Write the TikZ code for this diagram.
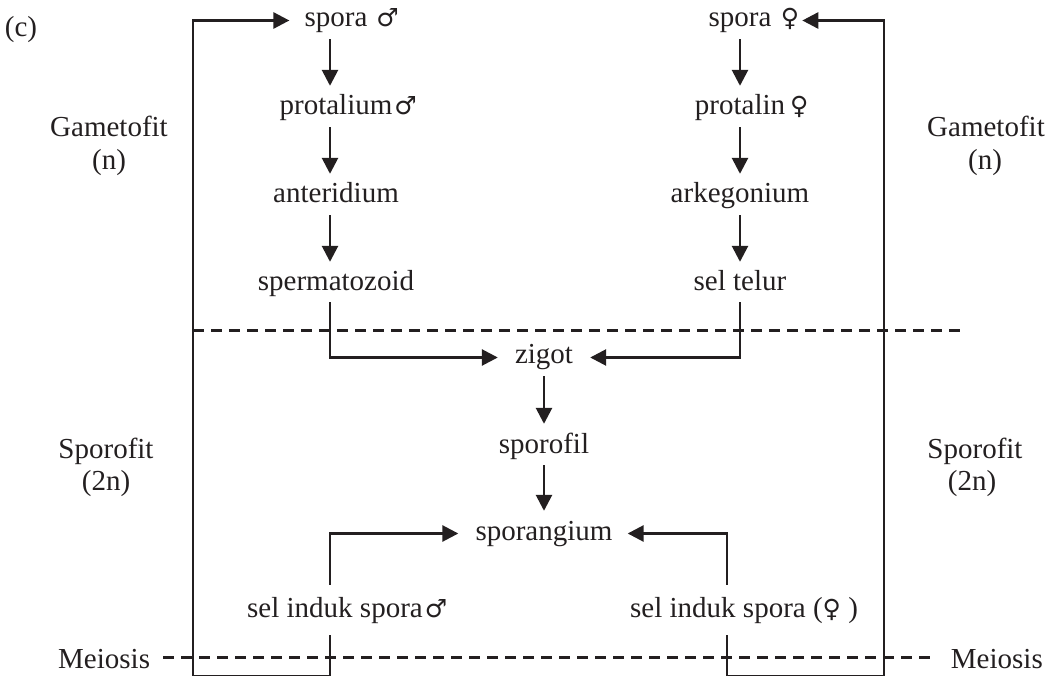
\documentclass[tikz,border=0pt]{standalone}
\usepackage{fontspec}
\setmainfont{Liberation Serif}
\newfontfamily\symfont{DejaVu Sans}
\newcommand{\msym}{{\symfont\fontsize{25}{25}\selectfont ♂}}
\newcommand{\fsym}{{\symfont\fontsize{25}{25}\selectfont ♀}}
\usetikzlibrary{arrows.meta,calc}
\definecolor{ink}{HTML}{231F20}
\begin{document}
\begin{tikzpicture}[x=1pt,y=-1pt,
  txt/.style={font=\fontsize{29}{33}\selectfont, inner sep=0pt, text height=20pt, text depth=7pt, text=ink},
  flow/.style={draw=ink, line width=2.7pt, -{Triangle[length=16pt,width=16pt]}, shorten <=5pt, shorten >=9pt},
  frame/.style={draw=ink, line width=2.7pt},
  dashline/.style={draw=ink, line width=3pt, dash pattern=on 11pt off 7pt},
]
\useasboundingbox (0,0) rectangle (1050,676);

% column guides
\coordinate (colL) at (330,0);
\coordinate (colR) at (740,0);
\coordinate (colRb) at (727,0);
\coordinate (frL) at (193,0);
\coordinate (frR) at (884,0);
\coordinate (bot) at (0,676);

\node[txt, anchor=base] (c) at (21,37) {(c)};

% left column
\node[txt, anchor=base] (sporaM) at (336,27) {spora\rlap{\kern9pt\msym}};
\node[txt, anchor=base] (protM) at (336,115) {protalium\rlap{\kern2pt\msym}};
\node[txt, anchor=base] (anter) at (336,203) {anteridium};
\node[txt, anchor=base] (sperm) at (336,291) {spermatozoid};

% right column
\node[txt, anchor=base] (sporaF) at (740,27) {spora};
\node[txt, anchor=base west] (sporaFs) at (sporaF.base east) {\kern9pt\fsym};
\node[txt, anchor=base] (protF) at (740,115) {protalin\rlap{\kern5pt\fsym}};
\node[txt, anchor=base] (arke) at (740,203) {arkegonium};
\node[txt, anchor=base] (telur) at (740,291) {sel telur};

% centre column
\node[txt, anchor=base] (zigot) at (544,364) {zigot};
\node[txt, anchor=base] (sporofil) at (544,453) {sporofil};
\node[txt, anchor=base] (sporang) at (544,540) {sporangium};

\node[txt, anchor=base west] (selM) at (247,617) {sel induk spora\kern2pt\msym};
\node[txt, anchor=base west] (selF) at (630,617) {sel induk spora (\fsym\ )};

% side labels
\node[txt, anchor=base] (gL) at (109,137) {Gametofit};
\node[txt, anchor=base] (gLn) at (109,170) {(n)};
\node[txt, anchor=base] (sL) at (106,458) {Sporofit};
\node[txt, anchor=base] (sLn) at (106,490) {(2n)};
\node[txt, anchor=base] (gR) at (986,137) {Gametofit};
\node[txt, anchor=base] (gRn) at (985,170) {(n)};
\node[txt, anchor=base] (sR) at (975,458) {Sporofit};
\node[txt, anchor=base] (sRn) at (972,490) {(2n)};
\node[txt, anchor=base west] (meiL) at (58,668) {Meiosis};
\node[txt, anchor=base east] (meiR) at (1043,668) {Meiosis};

% dashed boundaries
\draw[dashline] (193,331) -- (965,331);
\draw[dashline] (163,657) -- (933,657);

% vertical flows
\draw[flow] (sporaM.south -| colL) -- (protM.north -| colL);
\draw[flow] (protM.south -| colL) -- (anter.north -| colL);
\draw[flow] (anter.south -| colL) -- (sperm.north -| colL);
\draw[flow] (sporaF.south -| colR) -- (protF.north -| colR);
\draw[flow] (protF.south -| colR) -- (arke.north -| colR);
\draw[flow] (arke.south -| colR) -- (telur.north -| colR);
\draw[flow] (zigot.south) -- (sporofil.north);
\draw[flow] (sporofil.south) -- (sporang.north);

% into zigot
\draw[flow, shorten <=4pt, shorten >=17pt] (sperm.south -| colL) |- (zigot.west);
\draw[flow, shorten <=4pt, shorten >=17pt] (telur.south -| colR) |- (zigot.east);

% into sporangium
\draw[flow, shorten <=12pt, shorten >=17pt] (selM.north -| colL) |- (sporang.west);
\draw[flow, shorten <=12pt, shorten >=15pt] (selF.north -| colRb) |- (sporang.east);

% outer loops
\draw[frame, -{Triangle[length=16pt,width=16pt]}, shorten <=11pt, shorten >=15pt]
  (selM.south -| colL) -- (colL |- bot) -- (frL |- bot) -- (frL |- sporaM.west) -- (sporaM.west);
\draw[frame, -{Triangle[length=16pt,width=16pt]}, shorten <=11pt, shorten >=3pt]
  (selF.south -| colRb) -- (colRb |- bot) -- (frR |- bot) -- (frR |- sporaFs.east) -- (sporaFs.east);
\end{tikzpicture}
\end{document}
